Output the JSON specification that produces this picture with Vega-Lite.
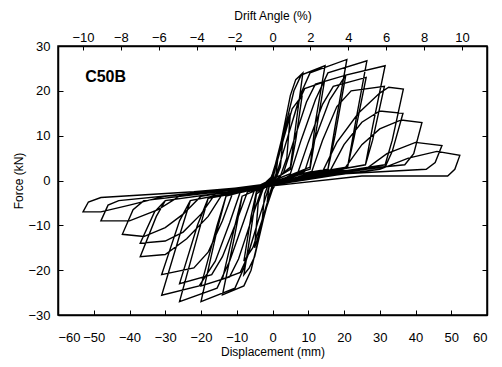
{
"$schema": "https://vega.github.io/schema/vega-lite/v6.json",
"width": 429, "height": 269,
"autosize": {"type": "none"},
"padding": {"left": 58, "top": 46, "right": 15, "bottom": 52},
"background": "white",
"config": {
  "font": "Liberation Sans",
  "view": {"stroke": "black", "strokeWidth": 1.5},
  "axis": {"grid": false, "domainColor": "black", "domainWidth": 1.5, "tickColor": "black", "tickWidth": 1, "labelColor": "black", "titleColor": "black", "labelFont": "Liberation Sans", "titleFont": "Liberation Sans", "labelFontSize": 13, "titleFontSize": 12, "titleFontWeight": "normal"}
},
"datasets": {
"loops": [
{"i":1,"d":0,"f":0},{"i":2,"d":1,"f":3.5},{"i":3,"d":1.5,"f":5},{"i":4,"d":1,"f":1.5},{"i":5,"d":0,"f":-1},{"i":6,"d":-1,"f":-3.5},{"i":7,"d":-1.5,"f":-5},{"i":8,"d":-1,"f":-1.5},{"i":9,"d":0,"f":1},
{"i":10,"d":1.5,"f":5.5},{"i":11,"d":3,"f":10},{"i":12,"d":2.2,"f":3},{"i":13,"d":0,"f":-1.5},{"i":14,"d":-1.5,"f":-5.5},{"i":15,"d":-3,"f":-10},{"i":16,"d":-2.2,"f":-3},{"i":17,"d":0,"f":1.5},
{"i":18,"d":2.5,"f":8},{"i":19,"d":4,"f":12.5},{"i":20,"d":5,"f":15},{"i":21,"d":4,"f":5},{"i":22,"d":2,"f":0.5},{"i":23,"d":0,"f":-2},{"i":24,"d":-2.5,"f":-8},{"i":25,"d":-4,"f":-12.5},{"i":26,"d":-5,"f":-15},{"i":27,"d":-4,"f":-5},{"i":28,"d":-2,"f":-0.5},
{"i":29,"d":0,"f":1},{"i":30,"d":2.5,"f":9},{"i":31,"d":5,"f":19},{"i":32,"d":6.5,"f":22.5},{"i":33,"d":8.5,"f":24},{"i":34,"d":6.8,"f":14},{"i":35,"d":5,"f":3},{"i":36,"d":2,"f":1},{"i":37,"d":0,"f":-1},{"i":38,"d":-2.5,"f":-8.5},{"i":39,"d":-5,"f":-17},{"i":40,"d":-6.5,"f":-19.5},{"i":41,"d":-8,"f":-21},{"i":42,"d":-6,"f":-11},{"i":43,"d":-4.5,"f":-3},{"i":44,"d":-2,"f":-1.5},
{"i":45,"d":0,"f":0.5},{"i":46,"d":3,"f":9},{"i":47,"d":5.5,"f":16},{"i":48,"d":8.3,"f":19},{"i":49,"d":6.5,"f":9},{"i":50,"d":5,"f":2.5},{"i":51,"d":2,"f":1},{"i":52,"d":0,"f":-1},{"i":53,"d":-3,"f":-9},{"i":54,"d":-5.5,"f":-15},{"i":55,"d":-8,"f":-18},{"i":56,"d":-6,"f":-8},{"i":57,"d":-4.5,"f":-2.5},{"i":58,"d":-2,"f":-1.5},
{"i":59,"d":0,"f":0.5},{"i":60,"d":3,"f":10},{"i":61,"d":6,"f":20},{"i":62,"d":8,"f":23.5},{"i":63,"d":14.7,"f":25.6},{"i":64,"d":12,"f":13},{"i":65,"d":10.5,"f":3},{"i":66,"d":5,"f":1.2},{"i":67,"d":0,"f":-1},{"i":68,"d":-3,"f":-10},{"i":69,"d":-6,"f":-20},{"i":70,"d":-8,"f":-23.5},{"i":71,"d":-14,"f":-25.5},{"i":72,"d":-10.5,"f":-12},{"i":73,"d":-8.5,"f":-3.5},{"i":74,"d":-4,"f":-2},
{"i":75,"d":1,"f":1},{"i":76,"d":4,"f":9},{"i":77,"d":7,"f":17},{"i":78,"d":9,"f":20.5},{"i":79,"d":14.5,"f":22},{"i":80,"d":12,"f":10},{"i":81,"d":10.5,"f":2.5},{"i":82,"d":5,"f":1.2},{"i":83,"d":0,"f":-1},{"i":84,"d":-1,"f":-1.5},{"i":85,"d":-4,"f":-9},{"i":86,"d":-7,"f":-17},{"i":87,"d":-9,"f":-20.5},{"i":88,"d":-14,"f":-22},{"i":89,"d":-10.5,"f":-10},{"i":90,"d":-8.5,"f":-3.5},{"i":91,"d":-4,"f":-2},
{"i":92,"d":1,"f":1},{"i":93,"d":4,"f":9},{"i":94,"d":8,"f":19.5},{"i":95,"d":10.5,"f":24},{"i":96,"d":20.8,"f":27},{"i":97,"d":17.5,"f":12},{"i":98,"d":15.5,"f":2.5},{"i":99,"d":8,"f":1.5},{"i":100,"d":0,"f":-1},{"i":101,"d":-1,"f":-1.5},{"i":102,"d":-4,"f":-9},{"i":103,"d":-8,"f":-19.5},{"i":104,"d":-10.5,"f":-24},{"i":105,"d":-20,"f":-27},{"i":106,"d":-15.5,"f":-11},{"i":107,"d":-13,"f":-3.5},{"i":108,"d":-6,"f":-2},
{"i":109,"d":3,"f":1.5},{"i":110,"d":6,"f":9},{"i":111,"d":9.5,"f":17.5},{"i":112,"d":12,"f":21.5},{"i":113,"d":20.5,"f":23.5},{"i":114,"d":17.5,"f":10},{"i":115,"d":15.5,"f":2.5},{"i":116,"d":8,"f":1.5},{"i":117,"d":0,"f":-1},{"i":118,"d":-3,"f":-1.8},{"i":119,"d":-6,"f":-9},{"i":120,"d":-9.5,"f":-17.5},{"i":121,"d":-12,"f":-21.5},{"i":122,"d":-20,"f":-23.5},{"i":123,"d":-15.5,"f":-10},{"i":124,"d":-13,"f":-3.5},{"i":125,"d":-6,"f":-2},
{"i":126,"d":5,"f":1.5},{"i":127,"d":8,"f":9},{"i":128,"d":12,"f":18},{"i":129,"d":15.5,"f":24},{"i":130,"d":26.4,"f":26.7},{"i":131,"d":23,"f":12},{"i":132,"d":21,"f":3},{"i":133,"d":10,"f":1.5},{"i":134,"d":0,"f":-1},{"i":135,"d":-5,"f":-2},{"i":136,"d":-8,"f":-9},{"i":137,"d":-12,"f":-18},{"i":138,"d":-15.5,"f":-24},{"i":139,"d":-26,"f":-27},{"i":140,"d":-20.5,"f":-11},{"i":141,"d":-18,"f":-4},{"i":142,"d":-8,"f":-2.5},
{"i":143,"d":7,"f":1.5},{"i":144,"d":10,"f":8.5},{"i":145,"d":14,"f":17},{"i":146,"d":17,"f":21},{"i":147,"d":26.2,"f":23},{"i":148,"d":22.8,"f":9.5},{"i":149,"d":21,"f":3},{"i":150,"d":10,"f":1.5},{"i":151,"d":0,"f":-1},{"i":152,"d":-7,"f":-2.5},{"i":153,"d":-10,"f":-9},{"i":154,"d":-14,"f":-17},{"i":155,"d":-17,"f":-21},{"i":156,"d":-26,"f":-23},{"i":157,"d":-21,"f":-10},{"i":158,"d":-18,"f":-4},{"i":159,"d":-8,"f":-2.5},
{"i":160,"d":9,"f":2},{"i":161,"d":12,"f":9.5},{"i":162,"d":16,"f":18},{"i":163,"d":20.5,"f":23.5},{"i":164,"d":31.5,"f":25.6},{"i":165,"d":28,"f":12},{"i":166,"d":26,"f":3.5},{"i":167,"d":12,"f":1.5},{"i":168,"d":0,"f":-1},{"i":169,"d":-9,"f":-2.5},{"i":170,"d":-12,"f":-9.5},{"i":171,"d":-16,"f":-18},{"i":172,"d":-20.5,"f":-23.5},{"i":173,"d":-31,"f":-25.6},{"i":174,"d":-25.5,"f":-11},{"i":175,"d":-23,"f":-4.5},{"i":176,"d":-10,"f":-2.5},
{"i":177,"d":11,"f":2},{"i":178,"d":14,"f":9},{"i":179,"d":18,"f":16.5},{"i":180,"d":22,"f":20},{"i":181,"d":31.3,"f":21},{"i":182,"d":28,"f":9},{"i":183,"d":26,"f":3.5},{"i":184,"d":12,"f":1.5},{"i":185,"d":0,"f":-1},{"i":186,"d":-11,"f":-2.5},{"i":187,"d":-14,"f":-9},{"i":188,"d":-18,"f":-16},{"i":189,"d":-22,"f":-19.5},{"i":190,"d":-31,"f":-21},{"i":191,"d":-26,"f":-9},{"i":192,"d":-23,"f":-4.5},{"i":193,"d":-10,"f":-2.5},
{"i":194,"d":14,"f":2},{"i":195,"d":18,"f":8.5},{"i":196,"d":24,"f":15},{"i":197,"d":30,"f":19.5},{"i":198,"d":32.5,"f":20.8},{"i":199,"d":36.6,"f":20.4},{"i":200,"d":33.5,"f":9},{"i":201,"d":31.5,"f":3.5},{"i":202,"d":15,"f":1.5},{"i":203,"d":0,"f":-1},{"i":204,"d":-14,"f":-3},{"i":205,"d":-18,"f":-8},{"i":206,"d":-24,"f":-13},{"i":207,"d":-30,"f":-16.5},{"i":208,"d":-37,"f":-17},{"i":209,"d":-32.5,"f":-8},{"i":210,"d":-30,"f":-4.5},{"i":211,"d":-12,"f":-2.5},
{"i":212,"d":16,"f":2},{"i":213,"d":20,"f":8},{"i":214,"d":25,"f":13},{"i":215,"d":30,"f":15.5},{"i":216,"d":36.5,"f":15},{"i":217,"d":33.5,"f":6.5},{"i":218,"d":31.5,"f":3},{"i":219,"d":15,"f":1.5},{"i":220,"d":0,"f":-1},{"i":221,"d":-16,"f":-3},{"i":222,"d":-20,"f":-7.5},{"i":223,"d":-25,"f":-11.5},{"i":224,"d":-30,"f":-13.5},{"i":225,"d":-37,"f":-14},{"i":226,"d":-33,"f":-7},{"i":227,"d":-30,"f":-4.5},{"i":228,"d":-12,"f":-2.5},
{"i":229,"d":20,"f":2.5},{"i":230,"d":25,"f":8},{"i":231,"d":30,"f":11.5},{"i":232,"d":36,"f":13.5},{"i":233,"d":41.8,"f":12.9},{"i":234,"d":39.5,"f":6},{"i":235,"d":37,"f":3.5},{"i":236,"d":18,"f":2},{"i":237,"d":0,"f":-1},{"i":238,"d":-20,"f":-3.5},{"i":239,"d":-25,"f":-7.5},{"i":240,"d":-30,"f":-10.5},{"i":241,"d":-36,"f":-12.5},{"i":242,"d":-42,"f":-12},{"i":243,"d":-39,"f":-6.5},{"i":244,"d":-36,"f":-4.5},{"i":245,"d":-15,"f":-2.5},
{"i":246,"d":26,"f":2.5},{"i":247,"d":32,"f":6},{"i":248,"d":40,"f":8.5},{"i":249,"d":47.4,"f":7.8},{"i":250,"d":45.5,"f":4},{"i":251,"d":43,"f":2.5},{"i":252,"d":20,"f":1.5},{"i":253,"d":0,"f":-1},{"i":254,"d":-26,"f":-3.5},{"i":255,"d":-32,"f":-6.5},{"i":256,"d":-40,"f":-9},{"i":257,"d":-48,"f":-9},{"i":258,"d":-46,"f":-5.5},{"i":259,"d":-43,"f":-4.5},{"i":260,"d":-18,"f":-2.5},
{"i":261,"d":30,"f":2.5},{"i":262,"d":38,"f":5},{"i":263,"d":46,"f":6.5},{"i":264,"d":52.4,"f":5.6},{"i":265,"d":51,"f":2.5},{"i":266,"d":49,"f":1},{"i":267,"d":25,"f":1},{"i":268,"d":0,"f":-1.2},{"i":269,"d":-30,"f":-3.5},{"i":270,"d":-40,"f":-5.5},{"i":271,"d":-48,"f":-7},{"i":272,"d":-53,"f":-7},{"i":273,"d":-51.5,"f":-4.8},{"i":274,"d":-48,"f":-3.8},{"i":275,"d":-22,"f":-2.5},{"i":276,"d":0,"f":-1}
],
"label": [{"d": -52.4, "f": 23, "t": "C50B"}],
"angle": [{"a": -10, "f": 0}, {"a": 10, "f": 0}]
},
"layer": [
  {
    "data": {"name": "loops"},
    "mark": {"type": "line", "color": "black", "strokeWidth": 1.4, "interpolate": "linear"},
    "encoding": {
      "x": {"field": "d", "type": "quantitative", "scale": {"domain": [-60, 60], "nice": false, "zero": false},
        "axis": {"orient": "bottom", "values": [-60,-50,-40,-30,-20,-10,0,10,20,30,40,50,60], "tickSize": -5, "labelPadding": 21, "title": "Displacement (mm)", "titlePadding": 2}},
      "y": {"field": "f", "type": "quantitative", "scale": {"domain": [-30, 30], "nice": false, "zero": false},
        "axis": {"orient": "left", "values": [-30,-20,-10,0,10,20,30], "tickSize": -5, "labelPadding": 13, "title": "Force (kN)", "titlePadding": 2}},
      "order": {"field": "i", "type": "quantitative"}
    }
  },
  {
    "data": {"name": "label"},
    "mark": {"type": "text", "align": "left", "baseline": "middle", "fontSize": 16, "fontWeight": "bold", "font": "Liberation Sans", "color": "black"},
    "encoding": {
      "x": {"field": "d", "type": "quantitative", "scale": {"domain": [-60, 60], "nice": false, "zero": false}, "axis": null},
      "y": {"field": "f", "type": "quantitative", "scale": {"domain": [-30, 30], "nice": false, "zero": false}, "axis": null},
      "text": {"field": "t"}
    }
  },
  {
    "data": {"name": "angle"},
    "mark": {"type": "point", "opacity": 0},
    "encoding": {
      "x": {"field": "a", "type": "quantitative", "scale": {"domain": [-11.32, 11.32], "nice": false, "zero": false},
        "axis": {"orient": "top", "values": [-10,-8,-6,-4,-2,0,2,4,6,8,10], "tickSize": -4, "labelPadding": 6, "title": "Drift Angle (%)", "titlePadding": 9}},
      "y": {"field": "f", "type": "quantitative", "scale": {"domain": [-30, 30], "nice": false, "zero": false},
        "axis": {"orient": "right", "values": [-30,-20,-10,0,10,20,30], "tickSize": -5, "labels": false, "title": null}}
    }
  }
],
"resolve": {"scale": {"x": "independent", "y": "independent"}}
}
